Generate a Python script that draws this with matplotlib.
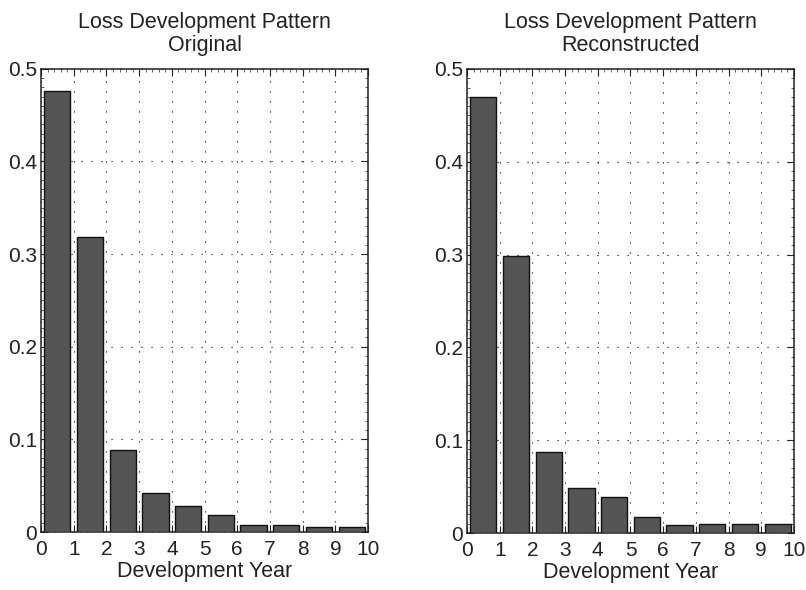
import numpy as np
import matplotlib
matplotlib.use("Agg")
import matplotlib.pyplot as plt
from matplotlib.ticker import MultipleLocator

plt.rcParams['font.family'] = ['Liberation Sans', 'DejaVu Sans']

# development years 1..10, bars drawn over [k-1, k]
years = np.arange(1, 11)
original = [0.476, 0.318, 0.088, 0.042, 0.028, 0.018, 0.008, 0.008, 0.005, 0.005]
reconstructed = [0.470, 0.298, 0.087, 0.049, 0.039, 0.017, 0.009, 0.010, 0.010, 0.010]
titles = ["Loss Development Pattern\nOriginal", "Loss Development Pattern\nReconstructed"]
xticks = list(range(0, 11))
yticks = [0, 0.1, 0.2, 0.3, 0.4, 0.5]
ytick_labels = ["0", "0.1", "0.2", "0.3", "0.4", "0.5"]

fig = plt.figure(figsize=(8.06, 5.90), dpi=100)
ax1 = fig.add_axes([0.0509, 0.0983, 0.4057, 0.785])
ax2 = fig.add_axes([0.5794, 0.0966, 0.4057, 0.7865])

for ax, vals, title in [(ax1, original, titles[0]), (ax2, reconstructed, titles[1])]:
    ax.bar(years - 0.5, vals, width=0.8, color="#555555", edgecolor="#111111",
           linewidth=1.0, zorder=3)
    ax.set_xlim(0, 10)
    ax.set_ylim(0, 0.5)
    ax.set_xticks(xticks)
    ax.set_yticks(yticks)
    ax.set_yticklabels(ytick_labels)
    ax.xaxis.set_minor_locator(MultipleLocator(0.2))
    ax.yaxis.set_minor_locator(MultipleLocator(0.01))
    ax.tick_params(which="both", direction="in", top=True, right=True,
                   labelsize=15, colors="#222222")
    ax.tick_params(which="major", length=5, width=0.8)
    ax.tick_params(axis="x", which="major", pad=6)
    ax.tick_params(axis="y", which="major", pad=3)
    ax.tick_params(which="minor", length=2.5, width=0.5)
    ax.grid(True, which="major", color="black", linewidth=0.8,
            linestyle=(0, (1, 8)), zorder=1)
    for sp in ax.spines.values():
        sp.set_linewidth(1.1)
        sp.set_color("#222222")
    ax.set_title(title, fontsize=15.5, color="#222222", pad=13, linespacing=1.1)
    ax.set_xlabel("Development Year", fontsize=15.5, color="#222222", labelpad=1)

fig.savefig("out.png", dpi=100)
